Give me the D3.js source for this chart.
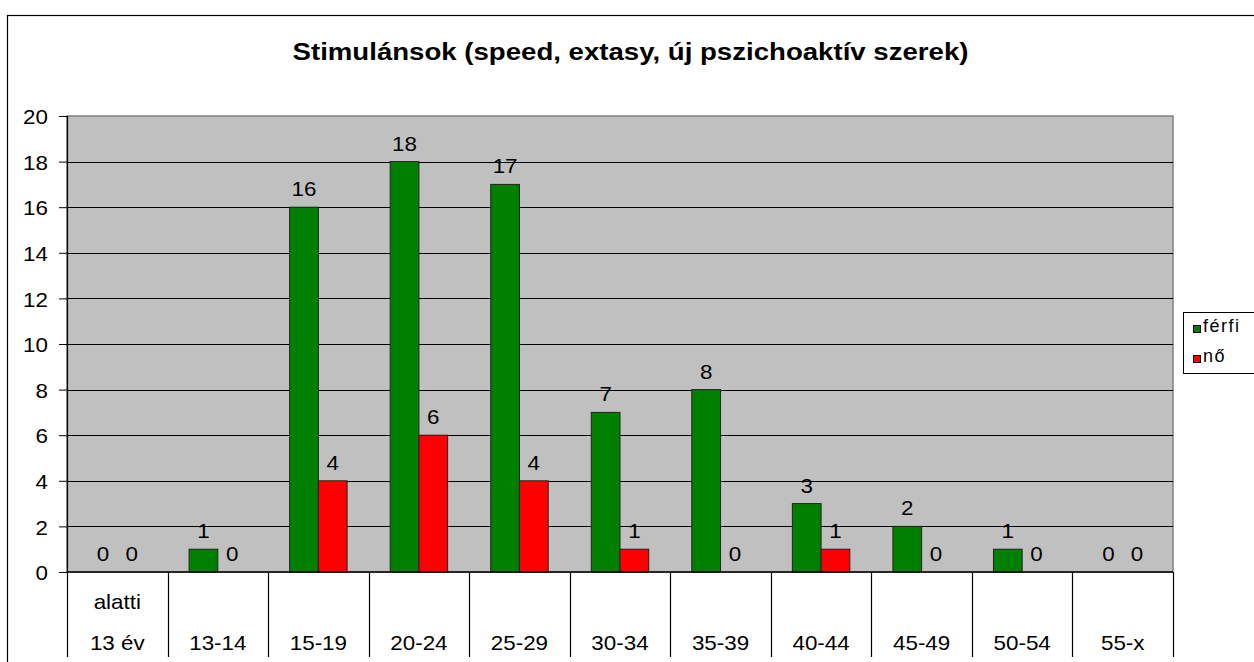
<!DOCTYPE html>
<html>
<head>
<meta charset="utf-8">
<script src="https://cdn.jsdelivr.net/npm/d3@7"></script>
<style>
  body { margin: 0; background: #fff; }
  text { font-family: "Liberation Sans", Arial, sans-serif; fill: #000; }
</style>
</head>
<body>
<div id="chart"></div>
<script>
// age groups (multi line labels, last line sits on the bottom row)
var categories = ["alatti\n13 év", "13-14", "15-19", "20-24", "25-29", "30-34", "35-39", "40-44", "45-49", "50-54", "55-x"]
var series = ["férfi", "nő"]
var colors = ["#008000", "#ff0000"]
var ferfi = [0, 1, 16, 18, 17, 7, 8, 3, 2, 1, 0]
var no = [0, 0, 4, 6, 4, 1, 0, 1, 0, 0, 0]
var yTicks = [0, 2, 4, 6, 8, 10, 12, 14, 16, 18, 20]
var title = "Stimulánsok (speed, extasy, új pszichoaktív szerek)"

var width = 1254, height = 662
var plot = { left: 67, top: 116, right: 1173, bottom: 572 }
var stretch = 1.12   // the original text is drawn a bit wide

var svg = d3.select("#chart").append("svg")
    .attr("width", width)
    .attr("height", height)

// put a stretched text at x,y
function label(g, x, y, t, size, sx) {
    return g.append("text")
        .attr("transform", "translate(" + x + "," + y + ") scale(" + (sx || stretch) + ",1)")
        .attr("text-anchor", "middle")
        .style("font-size", size + "px")
        .text(t)
}

// outer chart frame (runs off the right and bottom of the picture)
svg.append("rect")
    .attr("x", 7.5).attr("y", 15.5)
    .attr("width", 1300).attr("height", 700)
    .attr("fill", "#fff").attr("stroke", "#000").attr("stroke-width", 1.2)

label(svg, 630.5, 60, title, 24, 1.15).style("font-weight", "bold")

var x = d3.scaleBand()
    .domain(categories)
    .range([plot.left, plot.right])

var xInner = d3.scaleBand()
    .domain(series)
    .range([x.bandwidth() * 0.75 / 3.5, x.bandwidth() * 2.75 / 3.5])

var y = d3.scaleLinear()
    .domain([0, 20])
    .range([plot.bottom, plot.top])

// plot area
svg.append("rect")
    .attr("x", plot.left).attr("y", plot.top)
    .attr("width", plot.right - plot.left).attr("height", plot.bottom - plot.top)
    .attr("fill", "#c0c0c0").attr("stroke", "#808080").attr("stroke-width", 1.5)

// gridlines
svg.append("g").selectAll("line")
    .data(yTicks.slice(1, -1))
    .enter().append("line")
    .attr("x1", plot.left).attr("x2", plot.right)
    .attr("y1", function (d) { return Math.round(y(d)) + 0.5 })
    .attr("y2", function (d) { return Math.round(y(d)) + 0.5 })
    .attr("stroke", "#000").attr("stroke-width", 1)

// y axis
var yAxis = svg.append("g")
    .attr("transform", "translate(" + plot.left + ",0)")
    .call(d3.axisLeft(y).tickValues(yTicks).tickSize(8).tickPadding(9))
yAxis.select(".domain").attr("stroke", "#000").attr("stroke-width", 1.2)
yAxis.selectAll(".tick line").attr("stroke", "#000")
yAxis.selectAll(".tick text")
    .attr("transform", "scale(" + stretch + ",1)")
    .attr("dy", "0.38em")
    .style("font-size", "20px")
    .style("font-family", "Liberation Sans, Arial, sans-serif")
    .attr("fill", "#000")

// bars
var rows = []
for (var i = 0; i < categories.length; i++) {
    rows.push({ cat: categories[i], key: "férfi", value: ferfi[i] })
    rows.push({ cat: categories[i], key: "nő", value: no[i] })
}

svg.append("g").selectAll("rect")
    .data(rows.filter(function (d) { return d.value > 0 }))
    .enter().append("rect")
    .attr("x", function (d) { return x(d.cat) + xInner(d.key) })
    .attr("y", function (d) { return y(d.value) })
    .attr("width", xInner.bandwidth())
    .attr("height", function (d) { return y(0) - y(d.value) })
    .attr("fill", function (d) { return colors[series.indexOf(d.key)] })
    .attr("stroke", "#222").attr("stroke-width", 1)

// value labels
var vl = svg.append("g")
rows.forEach(function (d) {
    label(vl, x(d.cat) + xInner(d.key) + xInner.bandwidth() / 2, y(d.value) - 11, d.value, 20)
})

// x axis line
svg.append("line")
    .attr("x1", plot.left).attr("x2", plot.right)
    .attr("y1", plot.bottom).attr("y2", plot.bottom)
    .attr("stroke", "#000").attr("stroke-width", 1.5)

// category separators running down through the label table
var edges = categories.map(function (c) { return x(c) }).concat([plot.right])
svg.append("g").selectAll("line")
    .data(edges)
    .enter().append("line")
    .attr("x1", function (d) { return Math.round(d) + 0.5 })
    .attr("x2", function (d) { return Math.round(d) + 0.5 })
    .attr("y1", plot.bottom).attr("y2", 657)
    .attr("stroke", "#000").attr("stroke-width", 1.2)

// category labels
var rowY = [609, 650]
var cl = svg.append("g")
categories.forEach(function (c) {
    var lines = c.split("\n")
    lines.forEach(function (t, k) {
        label(cl, x(c) + x.bandwidth() / 2, rowY[rowY.length - lines.length + k], t, 20)
    })
})

// legend
var legend = svg.append("g").attr("transform", "translate(1183,312)")
legend.append("rect")
    .attr("x", 0.5).attr("y", 0.5).attr("width", 100).attr("height", 61)
    .attr("fill", "#fff").attr("stroke", "#000").attr("stroke-width", 1)
series.forEach(function (s, k) {
    legend.append("rect")
        .attr("x", 10.5).attr("y", 13.5 + k * 30)
        .attr("width", 7).attr("height", 7)
        .attr("fill", colors[k]).attr("stroke", "#000").attr("stroke-width", 1)
    legend.append("text")
        .attr("x", 20).attr("y", 20 + k * 30)
        .style("font-size", "18px")
        .style("letter-spacing", "1.5px")
        .text(s)
})
</script>
</body>
</html>
